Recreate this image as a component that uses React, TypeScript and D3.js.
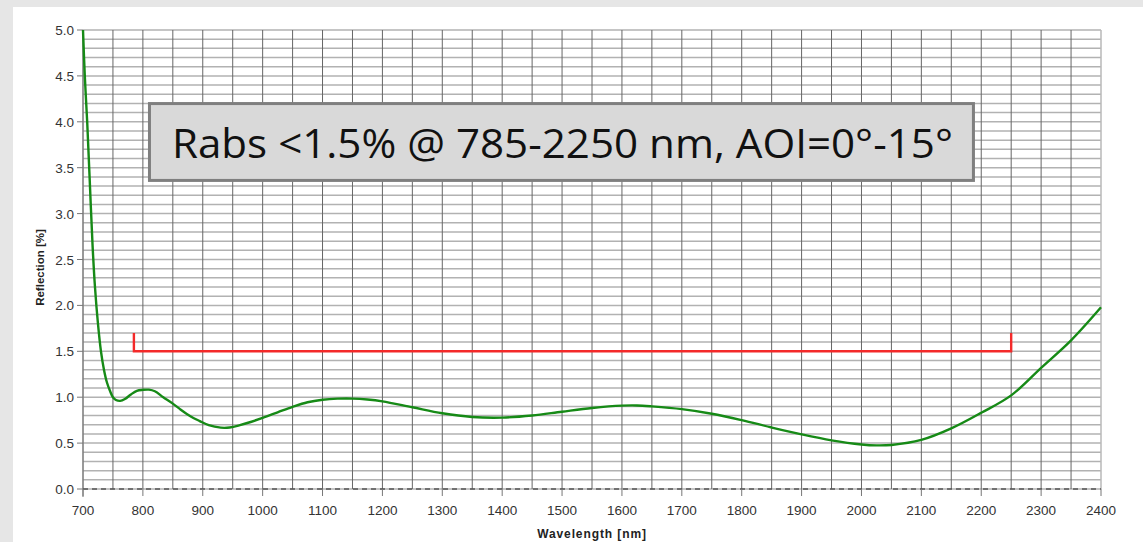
import * as d3 from 'd3';

// Reflection spectrum
const wavelengths = [
	700, 703, 707, 711, 716, 720, 725, 730, 735, 740, 745, 750, 755, 762, 770, 780, 790, 800, 810, 820, 834, 850,
	862, 880, 895, 910, 930, 945, 962, 980, 1000, 1025, 1050, 1075, 1100, 1125, 1150, 1175, 1200, 1250, 1300,
	1350, 1400, 1450, 1500, 1550, 1600, 1625, 1650, 1700, 1750, 1800, 1850, 1900, 1950, 2000, 2025, 2050, 2100,
	2150, 2200, 2250, 2300, 2350, 2400,
];
const reflection = [
	5.0, 4.5, 4.0, 3.4, 2.65, 2.2, 1.8, 1.5, 1.3, 1.16, 1.07, 1.0, 0.97, 0.96, 0.98, 1.03, 1.07, 1.08, 1.082, 1.065,
	1.0, 0.93, 0.87, 0.79, 0.74, 0.695, 0.668, 0.67, 0.695, 0.73, 0.775, 0.835, 0.895, 0.945, 0.972, 0.984, 0.985,
	0.975, 0.955, 0.89, 0.825, 0.785, 0.778, 0.8, 0.842, 0.882, 0.908, 0.91, 0.9, 0.87, 0.82, 0.75, 0.67, 0.595,
	0.53, 0.485, 0.475, 0.48, 0.535, 0.66, 0.83, 1.02, 1.32, 1.62, 1.98,
];

// spec bracket: Rabs < 1.5 % between 785 and 2250 nm
const specRange = [785, 2250];
const specLimit = 1.5;
const specTop = 1.7;

const xTicks = d3.range(700, 2401, 100);
const yTicks = [0, 0.5, 1, 1.5, 2, 2.5, 3, 3.5, 4, 4.5, 5];
const xGrid = d3.range(700, 2401, 50);
const yGrid = d3.range(0, 51, 1).map((d) => d / 10);

const noteText = 'Rabs <1.5% @ 785-2250 nm, AOI=0°-15°';

const W = 1143;
const H = 542;
const margin = { top: 30, right: 42, bottom: 53, left: 83 };

export default function App() {
	const x = d3.scaleLinear().domain([700, 2400]).range([margin.left, W - margin.right]);
	const y = d3.scaleLinear().domain([0, 5]).range([H - margin.bottom, margin.top]);

	const data = wavelengths.map((w, i) => [w, reflection[i]] as [number, number]);
	const line = d3
		.line<[number, number]>()
		.x((d) => x(d[0]))
		.y((d) => y(d[1]))
		.curve(d3.curveCatmullRom.alpha(0.5));

	const bracket = d3.line()([
		[x(specRange[0]), y(specTop)],
		[x(specRange[0]), y(specLimit)],
		[x(specRange[1]), y(specLimit)],
		[x(specRange[1]), y(specTop)],
	]);

	const tickFont = { fontFamily: 'Liberation Sans, Arial, sans-serif', fontSize: 13.5, fill: '#333' };

	// note box, in data units
	const box = { x0: 808.5, x1: 2189.5, y0: 4.215, y1: 3.345 };

	return (
		<svg
			width={W}
			height={H}
			style={{ position: 'absolute', left: 0, top: 0, display: 'block' }}
		>
			<rect x={0} y={0} width={W} height={H} fill="#e6e6e6" />
			<rect x={13} y={7} width={W - 13} height={H - 7} fill="#fff" />

			{/* grid */}
			{yGrid.map((v) => (
				<line
					key={'h' + v}
					x1={x(700)}
					x2={x(2400)}
					y1={y(v)}
					y2={y(v)}
					stroke="#b2b2b2"
					strokeWidth={1.5}
				/>
			))}
			{xGrid.map((v) => (
				<line
					key={'v' + v}
					x1={x(v)}
					x2={x(v)}
					y1={y(5)}
					y2={y(0)}
					stroke={v === 2400 ? '#b8b8b8' : '#666'}
					strokeWidth={v === 2400 ? 1.5 : 1}
				/>
			))}
			<line x1={x(700)} x2={x(700)} y1={y(5)} y2={y(0) + 8} stroke="#888" strokeWidth={1.2} />
			<line
				x1={x(700)}
				x2={x(2400)}
				y1={y(0)}
				y2={y(0)}
				stroke="#555"
				strokeWidth={1.5}
				strokeDasharray="5,4"
			/>

			{/* axes */}
			{yTicks.map((v) => (
				<g key={'yt' + v}>
					<line x1={x(700) - 6} x2={x(700)} y1={y(v)} y2={y(v)} stroke="#777" />
					<text x={x(700) - 9} y={y(v) + 5} textAnchor="end" {...tickFont}>
						{v.toFixed(1)}
					</text>
				</g>
			))}
			{xTicks.map((v) => (
				<g key={'xt' + v}>
					<line x1={x(v)} x2={x(v)} y1={y(0)} y2={y(0) + 7} stroke="#777" />
					<text x={x(v)} y={y(0) + 26} textAnchor="middle" {...tickFont}>
						{v}
					</text>
				</g>
			))}
			<text
				transform={`translate(44,${(margin.top + H - margin.bottom) / 2 + 8}) rotate(-90)`}
				textAnchor="middle"
				fontFamily="Liberation Sans, Arial, sans-serif"
				fontWeight="bold"
				fontSize={11.5}
				fill="#222"
			>
				Reflection [%]
			</text>
			<text
				x={(x(700) + x(2400)) / 2}
				y={H - 4}
				textAnchor="middle"
				fontFamily="Liberation Sans, Arial, sans-serif"
				fontWeight="bold"
				fontSize={12}
				letterSpacing={0.9}
				fill="#222"
			>
				Wavelength [nm]
			</text>

			{/* spec bracket + curve */}
			<path d={bracket ?? ''} fill="none" stroke="#f42a2a" strokeWidth={2.4} />
			<path d={line(data) ?? ''} fill="none" stroke="#168a16" strokeWidth={2.4} />

			{/* note */}
			<rect
				x={x(box.x0) + 1.5}
				y={y(box.y0) + 1.5}
				width={x(box.x1) - x(box.x0) - 3}
				height={y(box.y1) - y(box.y0) - 3}
				fill="#d9d9d9"
				stroke="#7f7f7f"
				strokeWidth={3}
			/>
			<text
				x={x(848.5)}
				y={y(3.605)}
				fontFamily="Open Sans, Noto Sans, sans-serif"
				fontSize={41}
				textLength={781}
				lengthAdjust="spacingAndGlyphs"
				fill="#111"
			>
				{noteText}
			</text>
		</svg>
	);
}
